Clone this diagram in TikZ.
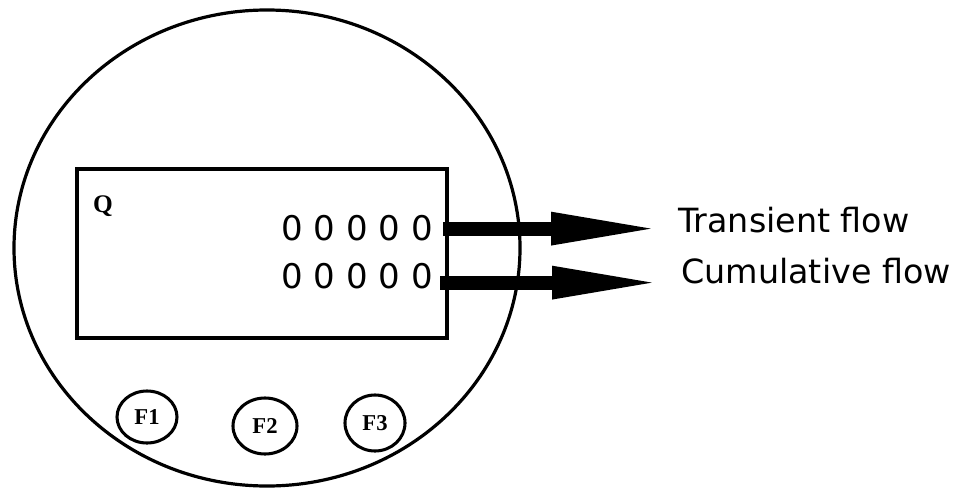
\documentclass[tikz,border=0pt]{standalone}
\usepackage{fontspec}
\setmainfont{Liberation Serif}
\newfontfamily\meterfont{DejaVu Sans}
\usetikzlibrary{arrows.meta, calc, shapes.geometric}

\begin{document}
\begin{tikzpicture}[
    x=0.75pt, y=-0.75pt,
    housing/.style={draw, line width=2.4pt},
    screen/.style={draw, line width=2.6pt},
    reading/.style={inner sep=0pt, font=\meterfont\fontsize{25.5}{30}\selectfont},
    flowlabel/.style={inner sep=0pt, font=\meterfont\fontsize{25}{30}\selectfont},
    fbutton/.style={ellipse, draw, line width=2.3pt, inner sep=0pt, font=\bfseries\fontsize{17}{20}\selectfont},
    flowarrow/.style={-{Triangle[length=84pt, width=22pt]}, line width=10.5pt}
]
    % Hintergrund
    \fill[white] (0,0) rectangle (969,489);

    % Gehaeuse und Anzeige
    \draw[housing] (267,248) ellipse [x radius=189.75pt, y radius=178.5pt];
    \draw[screen] (77,169) rectangle (447,338);

    % Anzeigewerte
    \node[font=\bfseries\fontsize{19}{22}\selectfont] (q) at (103,206) {Q};
    \node[reading, anchor=base east] (inst) at (433,240) {0 0 0 0 0};
    \node[reading, anchor=base east] (total) at (433,288) {0 0 0 0 0};

    % Beschriftungen
    \node[flowlabel, anchor=base west] (transient) at (678,232) {Transient flow};
    \node[flowlabel, anchor=base west] (cumulative) at (681,283) {Cumulative flow};

    % Tasten
    \node[fbutton, minimum width=45pt, minimum height=39pt] (f1) at (147,417) {F1};
    \node[fbutton, minimum width=48pt, minimum height=42pt] (f2) at (265,426) {F2};
    \node[fbutton, minimum width=45pt, minimum height=42pt] (f3) at (375,423) {F3};

    % Pfeile
    \draw[flowarrow] ($(inst.east)+(10,1)$) -- ($(inst.east -| transient.west)+(-15,1)$);
    \draw[flowarrow] ($(total.east)+(7,7)$) -- ($(total.east -| cumulative.west)+(-17,7)$);
\end{tikzpicture}
\end{document}
